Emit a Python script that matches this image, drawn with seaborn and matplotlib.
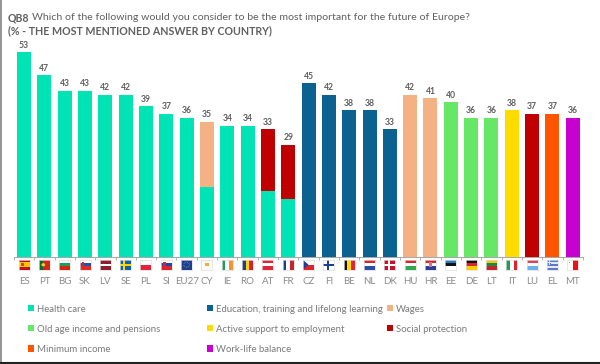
import matplotlib
matplotlib.use('Agg')
import seaborn as sns
import matplotlib.pyplot as plt
from matplotlib.patches import Patch, Rectangle, Circle, Polygon
from matplotlib.lines import Line2D

countries = ['ES', 'PT', 'BG', 'SK', 'LV', 'SE', 'PL', 'SI', 'EU27', 'CY', 'IE', 'RO', 'AT', 'FR',
             'CZ', 'FI', 'BE', 'NL', 'DK', 'HU', 'HR', 'EE', 'DE', 'LT', 'IT', 'LU', 'EL', 'MT']
totals = [53, 47, 43, 43, 42, 42, 39, 37, 36, 35, 34, 34, 33, 29,
          45, 42, 38, 38, 33, 42, 41, 40, 36, 36, 38, 37, 37, 36]
# answer shown at the top of each bar
answers = ['Health care'] * 9 + ['Wages', 'Health care', 'Health care', 'Social protection', 'Social protection'] \
    + ['Education, training and lifelong learning'] * 5 + ['Wages', 'Wages'] \
    + ['Old age income and pensions'] * 3 + ['Active support to employment', 'Social protection',
                                             'Minimum income', 'Work-life balance']
# lower health care part of the tied countries
tied = [0, 0, 0, 0, 0, 0, 0, 0, 0, 18, 0, 0, 17, 15,
        0, 0, 0, 0, 0, 0, 0, 0, 0, 0, 0, 0, 0, 0]

colours = {
    'Health care': '#00E4B5',
    'Education, training and lifelong learning': '#0B6291',
    'Wages': '#F4B183',
    'Old age income and pensions': '#66E766',
    'Active support to employment': '#FFDC00',
    'Social protection': '#C00000',
    'Minimum income': '#FF5500',
    'Work-life balance': '#C800D0',
}
legend_columns = [
    ['Health care', 'Old age income and pensions', 'Minimum income'],
    ['Education, training and lifelong learning', 'Active support to employment', 'Work-life balance'],
    ['Wages', 'Social protection'],
]

# flag: (direction, stripes, extra)
flags = {
    'ES': ('h', ['#C60B1E', '#FFC400', '#FFC400', '#C60B1E'], 'es'),
    'PT': ('v', ['#0B6B2E', '#D8261C', '#D8261C'], 'pt'),
    'BG': ('h', ['#FFFFFF', '#1E9E5A', '#D62612'], None),
    'SK': ('h', ['#FFFFFF', '#2B4FA8', '#E02A2A'], 'sk'),
    'LV': ('h', ['#8E1F2F', '#8E1F2F', '#FFFFFF', '#8E1F2F', '#8E1F2F'], None),
    'SE': ('h', ['#1060A8'], 'se'),
    'PL': ('h', ['#FFFFFF', '#E8213A'], None),
    'SI': ('h', ['#FFFFFF', '#2145B0', '#E0252A'], 'sk'),
    'EU27': ('h', ['#1B3F94'], 'eu'),
    'CY': ('h', ['#FAFAFA'], 'cy'),
    'IE': ('v', ['#1E9E5A', '#FFFFFF', '#F5913A'], None),
    'RO': ('v', ['#1C3F94', '#FFD500', '#D6202C'], None),
    'AT': ('h', ['#E0243A', '#FFFFFF', '#E0243A'], None),
    'FR': ('v', ['#1C3F94', '#FFFFFF', '#C8242C'], None),
    'CZ': ('h', ['#FFFFFF', '#D8262C'], 'cz'),
    'FI': ('h', ['#FFFFFF'], 'fi'),
    'BE': ('v', ['#111111', '#FFD90C', '#E0243A'], None),
    'NL': ('h', ['#D8262C', '#FFFFFF', '#2A4FA8'], None),
    'DK': ('h', ['#C8102E'], 'dk'),
    'HU': ('h', ['#D8262C', '#FFFFFF', '#2FA84F'], None),
    'HR': ('h', ['#D8262C', '#FFFFFF', '#2A3F94'], 'hr'),
    'EE': ('h', ['#1C7FC8', '#111111', '#FFFFFF'], None),
    'DE': ('h', ['#111111', '#D8262C', '#FFCC00'], None),
    'LT': ('h', ['#F2C80F', '#1E8A45', '#C1272D'], None),
    'IT': ('v', ['#1E9E5A', '#FFFFFF', '#D8262C'], None),
    'LU': ('h', ['#E0405A', '#FFFFFF', '#6CB0F0'], None),
    'EL': ('h', ['#5A78C8', '#E4E8F4', '#5A78C8', '#E4E8F4', '#5A78C8'], 'el'),
    'MT': ('v', ['#FFFFFF', '#F0101A'], 'mt'),
}

W, H = 600, 364
LEFT, RIGHT, BASE, TOP = 13.9, 582.9, 257.0, 25.0
GREY = '#5F5F5F'
LIGHT = '#8A8A8A'


def px_box(x0, y0, x1, y1):
    return [x0 / W, 1 - y1 / H, (x1 - x0) / W, (y1 - y0) / H]


def draw_flag(fig, xc, code):
    direction, stripes, extra = flags[code]
    fax = fig.add_axes(px_box(xc - 5.5, 260, xc + 5.5, 269.5))
    fax.set_xlim(0, 1)
    fax.set_ylim(0, 1)
    n = len(stripes)
    for k, c in enumerate(stripes):
        if direction == 'h':
            fax.add_patch(Rectangle((0, 1 - (k + 1) / n), 1, 1 / n, color=c, lw=0))
        else:
            fax.add_patch(Rectangle((k / n, 0), 1 / n, 1, color=c, lw=0))
    cross = {'se': '#FFD500', 'fi': '#1C3F94', 'dk': '#FFFFFF'}
    if extra in cross:
        fax.add_patch(Rectangle((0, 0.38), 1, 0.24, color=cross[extra], lw=0))
        fax.add_patch(Rectangle((0.3, 0), 0.18, 1, color=cross[extra], lw=0))
    elif extra == 'es':
        fax.add_patch(Rectangle((0.25, 0.35), 0.2, 0.3, color='#B5501E', lw=0))
    elif extra == 'pt':
        fax.add_patch(Circle((0.4, 0.5), 0.17, color='#F2D11A', lw=0))
    elif extra == 'sk':
        fax.add_patch(Rectangle((0.2, 0.3), 0.25, 0.45, color='#D8262C', lw=0))
    elif extra == 'eu':
        fax.add_patch(Circle((0.5, 0.5), 0.26, fill=False, ec='#D8C020', lw=0.5, ls=':'))
    elif extra == 'cy':
        fax.add_patch(Rectangle((0.35, 0.42), 0.35, 0.25, color='#E8B040', lw=0))
    elif extra == 'cz':
        fax.add_patch(Polygon([(0, 0), (0, 1), (0.5, 0.5)], color='#1C3F94', lw=0))
    elif extra == 'hr':
        fax.add_patch(Rectangle((0.4, 0.3), 0.2, 0.45, color='#E0708A', lw=0))
    elif extra == 'el':
        fax.add_patch(Rectangle((0, 0.45), 0.4, 0.55, color='#5A78C8', lw=0))
        fax.add_patch(Rectangle((0.15, 0.45), 0.1, 0.55, color='#E4E8F4', lw=0))
        fax.add_patch(Rectangle((0, 0.66), 0.4, 0.12, color='#E4E8F4', lw=0))
    elif extra == 'mt':
        fax.add_patch(Rectangle((0.12, 0.68), 0.14, 0.16, color='#999999', lw=0))
    fax.set_xticks([])
    fax.set_yticks([])
    for sp in fax.spines.values():
        sp.set_color('#DDDDDD')
        sp.set_linewidth(0.5)


sns.set_theme(style='white')
plt.rcParams['font.family'] = ['Lato', 'DejaVu Sans']

fig = plt.figure(figsize=(W / 100, H / 100), dpi=100, facecolor='w')
ax = fig.add_axes(px_box(LEFT, TOP, RIGHT, BASE))

bar_width = 14 / 20.3
sns.barplot(x=countries, y=totals, hue=countries, order=countries, hue_order=countries,
            palette=[colours[a] for a in answers], dodge=False, legend=False, width=bar_width, ax=ax)
sns.barplot(x=countries, y=tied, order=countries, color=colours['Health care'],
            saturation=1, width=bar_width, ax=ax)
for patch in ax.patches:
    patch.set_linewidth(0)

# seaborn desaturates by default, set the exact colours back
for patch, a in zip(ax.patches[:len(countries)], answers):
    patch.set_facecolor(colours[a])

ax.set_xlim(-0.5, len(countries) - 0.5)
ax.set_ylim(0, 60)
ax.set_yticks([])
ax.set_ylabel('')
ax.set_xlabel('')
for side in ['top', 'left', 'right']:
    ax.spines[side].set_visible(False)
ax.spines['bottom'].set_color('#A6A6A6')
ax.spines['bottom'].set_linewidth(0.7)

ax.tick_params(axis='x', which='major', length=0, pad=14.5, labelsize=7, labelcolor=LIGHT)
ax.set_xticks(range(len(countries)), countries)
ax.set_xticks([i - 0.5 for i in range(len(countries) + 1)], minor=True)
ax.tick_params(axis='x', which='minor', length=1.8, width=0.6, color='#A6A6A6', bottom=True)

for i, v in enumerate(totals):
    ax.annotate(str(v), (i, v), xytext=(0, 1.8), textcoords='offset points', ha='center', va='bottom',
                fontsize=6.2, fontweight='bold', color=GREY)
    draw_flag(fig, LEFT + (i + 0.5) * (RIGHT - LEFT) / len(countries), countries[i])

# title
fig.text(8 / W, 1 - 18 / H, 'QB8', fontsize=7.6, fontweight='bold', color=GREY, ha='left', va='center')
fig.text(32 / W, 1 - 18 / H, 'Which of the following would you consider to be the most important for the future of Europe?',
         fontsize=7.55, color=GREY, ha='left', va='center')
fig.text(8 / W, 1 - 31 / H, '(% - THE MOST MENTIONED ANSWER BY COUNTRY)', fontsize=7.65, fontweight='bold',
         color=GREY, ha='left', va='center')

# legend, one per column because the gaps are uneven
for col, x_px in zip(legend_columns, [28, 207, 387]):
    handles = [Patch(facecolor=colours[a], edgecolor='none', label=a) for a in col]
    fig.legend(handles=handles, loc='upper left', bbox_to_anchor=(x_px / W, 1 - 304.5 / H),
               bbox_transform=fig.transFigure, frameon=False, fontsize=6.9, labelcolor='#7A7A7A',
               handlelength=0.65, handleheight=0.65, handletextpad=0.3, labelspacing=1.16,
               borderpad=0, borderaxespad=0)

# screenshot frame
fig.add_artist(Line2D([0.9 / W, 0.9 / W], [0, 1], color='#8C8C8C', lw=1.3))
fig.add_artist(Line2D([0, 1], [0.9 / H, 0.9 / H], color='#222222', lw=1.5))

plt.savefig('out.png', dpi=100)
